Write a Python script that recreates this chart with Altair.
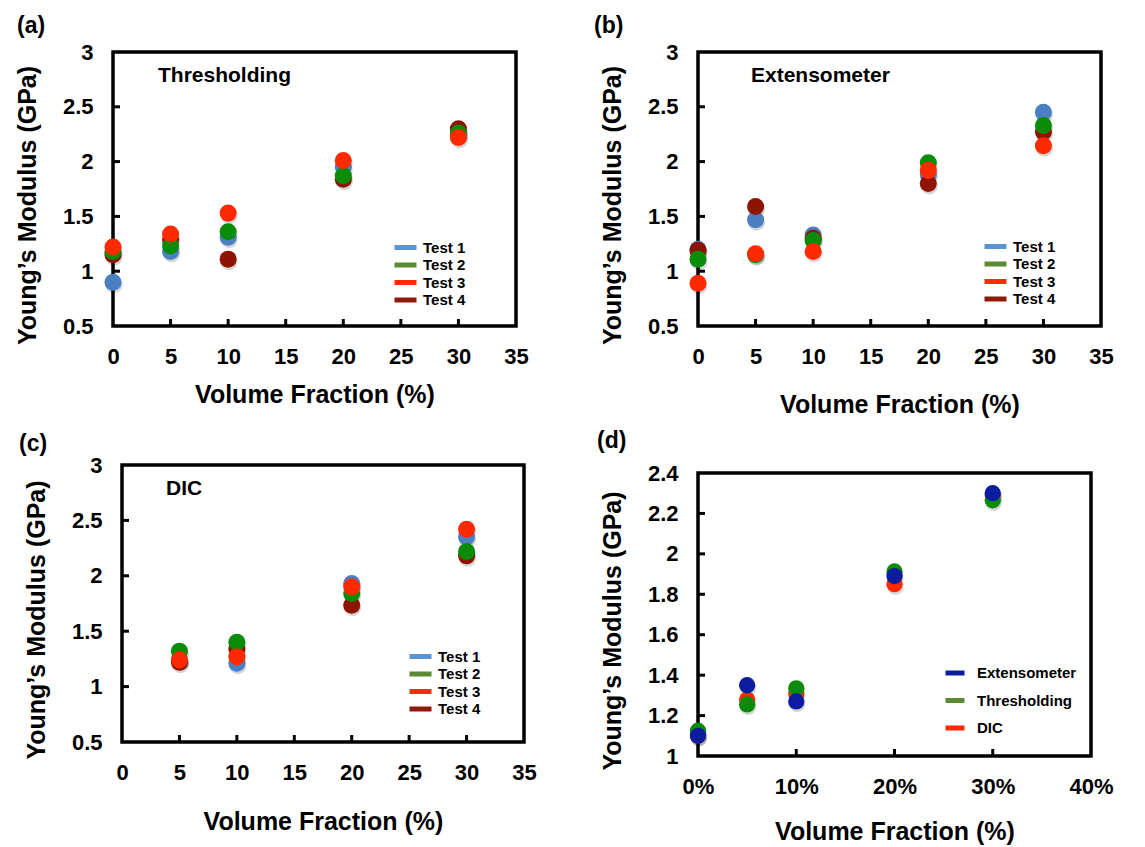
import altair as alt
import pandas as pd

FONT = "Liberation Sans"

# ---------------- data ----------------
vol = [0, 5, 10, 20, 30]
vol_dic = [5, 10, 20, 30]
tests = ["Test 1", "Test 2", "Test 3", "Test 4"]

# (a) Thresholding
thr_t1 = [0.90, 1.18, 1.31, 1.95, 2.25]
thr_t2 = [1.18, 1.23, 1.36, 1.87, 2.26]
thr_t3 = [1.22, 1.34, 1.53, 2.01, 2.22]
thr_t4 = [1.15, 1.29, 1.11, 1.84, 2.30]

# (b) Extensometer
ext_t1 = [1.20, 1.47, 1.33, 1.88, 2.45]
ext_t2 = [1.11, 1.15, 1.28, 1.99, 2.33]
ext_t3 = [0.89, 1.16, 1.18, 1.92, 2.145]
ext_t4 = [1.19, 1.59, 1.30, 1.80, 2.27]

# (c) DIC
dic_t1 = [1.24, 1.21, 1.93, 2.35]
dic_t2 = [1.32, 1.40, 1.84, 2.22]
dic_t3 = [1.24, 1.27, 1.90, 2.42]
dic_t4 = [1.22, 1.34, 1.735, 2.18]

# (d) averages
methods = ["Extensometer", "Thresholding", "DIC"]
avg_ext = [1.10, 1.35, 1.27, 1.89, 2.30]
avg_thr = [1.125, 1.255, 1.335, 1.913, 2.265]
avg_dic = [1.10, 1.28, 1.307, 1.85, 2.29]

test_point_colors = ["#4a80c2", "#0a8c0a", "#ff2a00", "#8e1400"]
test_legend_colors = ["#5b94d2", "#5c8a34", "#ff2a00", "#8e1a0a"]
test_draw_order = [0, 2, 3, 1]  # blue first, then dark red, green, red on top

method_point_colors = ["#0b1d9e", "#0a8c0a", "#ff2a00"]
method_legend_colors = ["#0b1d9e", "#5c8a34", "#ff2a00"]
method_draw_order = [2, 1, 0]  # DIC first, Extensometer on top

ticks_y_main = [0.5, 1, 1.5, 2, 2.5, 3]
ticks_x_main = [0, 5, 10, 15, 20, 25, 30, 35]
ticks_y_d = [1, 1.2, 1.4, 1.6, 1.8, 2, 2.2, 2.4]
ticks_x_d = [0, 10, 20, 30, 40]


def make_df(xs_list, ys_list, names, colors, order):
    rows = []
    for i, (xs, ys) in enumerate(zip(xs_list, ys_list)):
        for x, y in zip(xs, ys):
            rows.append({"vol": x, "E": y, "series": names[i], "col": colors[i], "z": order[i]})
    return pd.DataFrame(rows)


def spacer(w, h):
    return alt.Chart(pd.DataFrame({"s": [0]})).mark_point(opacity=0).encode(
        x=alt.value(0), y=alt.value(0)
    ).properties(width=w, height=h, view=alt.ViewBackground(stroke="transparent"))


def panel(df, names, leg_colors, xdom, ydom, xvals, yvals, w, h, letter, letter_xy,
          inner, inner_xy, leg_xy, leg_rowpad, sym_len, leg_offset, size, xtitle_pad,
          clip_h=None, label_pct=False, label_size=22):
    x_axis_kw = dict(values=xvals, title="Volume Fraction (%)", domain=False, ticks=False, grid=False,
                     labelFlush=False, labelOverlap=False, labelFont=FONT, labelFontSize=label_size,
                     labelFontWeight="bold", labelColor="black", labelPadding=20,
                     titleFont=FONT, titleFontSize=25, titleFontWeight="bold", titleColor="black",
                     titlePadding=xtitle_pad)
    if label_pct:
        x_axis_kw["labelExpr"] = "datum.value + '%'"
    y_axis = alt.Axis(values=yvals, format="~g", title="Young\u2019s Modulus (GPa)", domain=False,
                      ticks=False, grid=False, labelFlush=False, labelOverlap=False, labelFont=FONT,
                      labelFontSize=label_size, labelFontWeight="bold", labelColor="black",
                      labelPadding=20, titleFont=FONT, titleFontSize=25, titleFontWeight="bold",
                      titleColor="black", titleX=-73, titleY=h / 2 + 16, titleAngle=270,
                      titleAlign="center", titleBaseline="bottom")
    xs = alt.Scale(domain=xdom, nice=False, zero=False)
    ys = alt.Scale(domain=ydom, nice=False, zero=False)

    inner_y = [v for v in yvals if ydom[0] < v < ydom[1]]
    inner_x = [v for v in xvals if xdom[0] < v < xdom[1]]

    pts = alt.Chart(df).mark_circle(size=size, opacity=1).encode(
        x=alt.X("vol:Q", scale=xs, axis=alt.Axis(**x_axis_kw)),
        y=alt.Y("E:Q", scale=ys, axis=y_axis),
        color=alt.Color("col:N", scale=None),
        order=alt.Order("z:Q"))

    ytick = alt.Chart(pd.DataFrame({"vol": [xdom[0]] * len(inner_y), "E": inner_y})).mark_rule(
        color="black", strokeWidth=3).encode(
        y=alt.Y("E:Q", scale=ys), x=alt.value(0), x2=alt.value(7))
    xtick = alt.Chart(pd.DataFrame({"vol": inner_x, "E": [ydom[0]] * len(inner_x)})).mark_rule(
        color="black", strokeWidth=3).encode(
        x=alt.X("vol:Q", scale=xs), y=alt.value(h), y2=alt.value(h - 7))

    shadow = alt.Chart(df).mark_circle(size=size, opacity=0.16, color="#000000", xOffset=1, yOffset=2.5).encode(
        x=alt.X("vol:Q", scale=xs), y=alt.Y("E:Q", scale=ys),
        order=alt.Order("z:Q"))

    leg_kw = dict(title=None, orient="none", legendX=leg_xy[0], legendY=leg_xy[1],
                  symbolType="stroke", symbolStrokeWidth=5,
                  symbolSize=sym_len ** 2, padding=0, rowPadding=leg_rowpad,
                  labelFont=FONT, labelFontSize=15, labelFontWeight="bold",
                  labelColor="black", labelOffset=leg_offset)
    if clip_h is not None:
        leg_kw["clipHeight"] = clip_h
    leg = alt.Chart(df).mark_line().encode(
        x=alt.X("vol:Q", scale=xs), y=alt.Y("E:Q", scale=ys),
        stroke=alt.Stroke("series:N", scale=alt.Scale(domain=names, range=leg_colors),
                          legend=alt.Legend(**leg_kw))
    ).transform_filter("false")

    inner_txt = alt.Chart(pd.DataFrame({"t": [inner]})).mark_text(
        align="left", baseline="alphabetic", font=FONT, fontSize=21, fontWeight="bold", color="black"
    ).encode(text="t:N", x=alt.value(inner_xy[0]), y=alt.value(inner_xy[1]))

    letter_txt = alt.Chart(pd.DataFrame({"t": [letter]})).mark_text(
        align="left", baseline="alphabetic", font=FONT, fontSize=23, fontWeight="bold", color="black"
    ).encode(text="t:N", x=alt.value(letter_xy[0]), y=alt.value(letter_xy[1]))

    # draw order: ticks, shadow, points on top
    ordered = [ytick, xtick, shadow, pts, leg, letter_txt] + ([inner_txt] if inner else [])
    return alt.layer(*ordered).properties(width=w, height=h).resolve_scale(stroke="independent")


df_a = make_df([vol] * 4, [thr_t1, thr_t2, thr_t3, thr_t4], tests, test_point_colors, test_draw_order)
df_b = make_df([vol] * 4, [ext_t1, ext_t2, ext_t3, ext_t4], tests, test_point_colors, test_draw_order)
df_c = make_df([vol_dic] * 4, [dic_t1, dic_t2, dic_t3, dic_t4], tests, test_point_colors, test_draw_order)
df_d = make_df([vol] * 3, [avg_ext, avg_thr, avg_dic], methods, method_point_colors, method_draw_order)

pa = panel(df_a, tests, test_legend_colors, [0, 35], [0.5, 3], ticks_x_main, ticks_y_main, 403, 274,
           "(a)", (-96, -19), "Thresholding", (45, 30), (279, 187), 0.5, 22, 4, 290, 15, clip_h=17)
pb = panel(df_b, tests, test_legend_colors, [0, 35], [0.5, 3], ticks_x_main, ticks_y_main, 403, 274,
           "(b)", (-104, -19), "Extensometer", (53, 30), (284, 186), 0.5, 22, 4, 290, 25, clip_h=17)
pc = panel(df_c, tests, test_legend_colors, [0, 35], [0.5, 3], ticks_x_main, ticks_y_main, 402, 277,
           "(c)", (-103, -14), "DIC", (44, 30), (285, 183), 0.5, 22, 4, 290, 26, clip_h=17)
pd_ = panel(df_d, methods, method_legend_colors, [0, 40], [1, 2.4], ticks_x_d, ticks_y_d, 393, 283,
            "(d)", (-101, -25), "", (0, 0), (245, 188), 5.5, 19, 10, 265, 22, label_pct=True)


def res(c):
    return c.resolve_scale(stroke="independent").resolve_legend(stroke="independent")


cell_c = res(alt.hconcat(spacer(9, 1), pc, spacing=0, bounds="flush"))
cell_d = res(alt.vconcat(spacer(393, 8), pd_, spacing=0, bounds="flush"))

chart = res(alt.concat(pa, pb, cell_c, cell_d, columns=2,
                       spacing=alt.RowColnumber(row=139, column=182), bounds="flush")).properties(
    padding={"left": 5, "top": 5, "right": 5, "bottom": 0},
    background="white",
).configure_view(stroke="black", strokeWidth=3.5)

chart.save("out.html", embed_options={"renderer": "svg", "actions": False})
